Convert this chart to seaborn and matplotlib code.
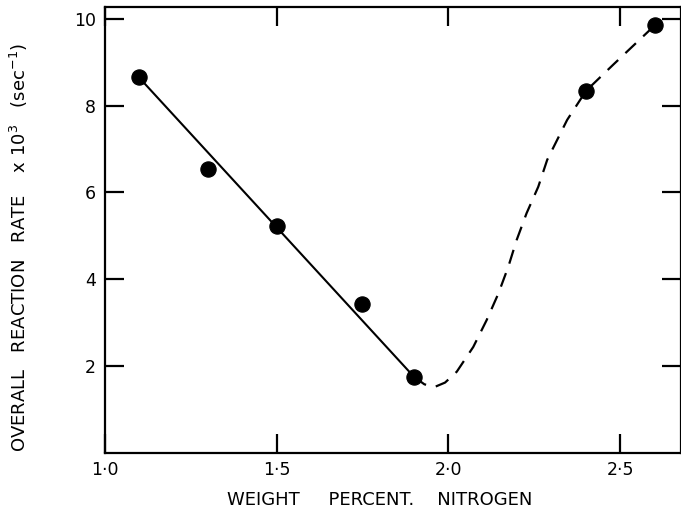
import pandas as pd
import matplotlib
matplotlib.use("Agg")
import matplotlib.pyplot as plt
import seaborn as sns

# measured points
nitrogen = [1.10, 1.30, 1.50, 1.75, 1.90, 2.40, 2.60]
rate = [8.65, 6.55, 5.23, 3.44, 1.75, 8.34, 9.85]

# straight fitted line (solid)
fit_x = [1.10, 1.90]
fit_y = [8.65, 1.75]

# hand drawn curve (dashed)
curve_x = [1.90, 1.93, 1.96, 1.99, 2.024, 2.072, 2.111, 2.145, 2.174, 2.198,
           2.227, 2.261, 2.287, 2.345, 2.40, 2.48, 2.60]
curve_y = [1.75, 1.58, 1.52, 1.62, 1.87, 2.44, 3.06, 3.67, 4.29, 4.90,
           5.52, 6.13, 6.75, 7.67, 8.34, 8.95, 9.85]

xticks = [1.0, 1.5, 2.0, 2.5]
xticklabels = ["1\u00b70", "1\u00b75", "2\u00b70", "2\u00b75"]
yticks = [2, 4, 6, 8, 10]

sns.set_style("ticks")
plt.rcParams["font.family"] = ["DejaVu Sans"]

fig = plt.figure(figsize=(6.81, 5.20), dpi=100)
ax = fig.add_axes([0.1535, 0.129, 0.8465, 0.8575])

pts = pd.DataFrame({"x": nitrogen, "y": rate})
fit = pd.DataFrame({"x": fit_x, "y": fit_y})
curve = pd.DataFrame({"x": curve_x, "y": curve_y})

sns.lineplot(data=fit, x="x", y="y", color="black", linewidth=1.5,
             sort=False, estimator=None, ax=ax)
sns.lineplot(data=curve, x="x", y="y", color="black", linewidth=1.6,
             sort=False, estimator=None, ax=ax)
ax.lines[-1].set_dashes([6.5, 4.5])
sns.scatterplot(data=pts, x="x", y="y", color="black", s=120,
                edgecolor="black", zorder=5, ax=ax)

ax.set_xlim(1.0, 2.676)
ax.set_ylim(0, 10.27)
ax.set_xticks(xticks)
ax.set_xticklabels(xticklabels)
ax.set_yticks(yticks)
ax.tick_params(direction="in", length=14, width=1.6, labelsize=12.5,
               top=True, right=True, colors="black", pad=6)
for s in ax.spines.values():
    s.set_linewidth(1.6)
    s.set_color("black")

ax.set_xlabel("WEIGHT     PERCENT.    NITROGEN", fontsize=13, color="black")
ax.xaxis.set_label_coords(0.478, -0.085)
ax.set_ylabel("OVERALL   REACTION   RATE    x 10$^{3}$   (sec$^{-1}$)",
              fontsize=13, color="black")
ax.yaxis.set_label_coords(-0.13, 0.46)

fig.savefig("out.png", dpi=100)
